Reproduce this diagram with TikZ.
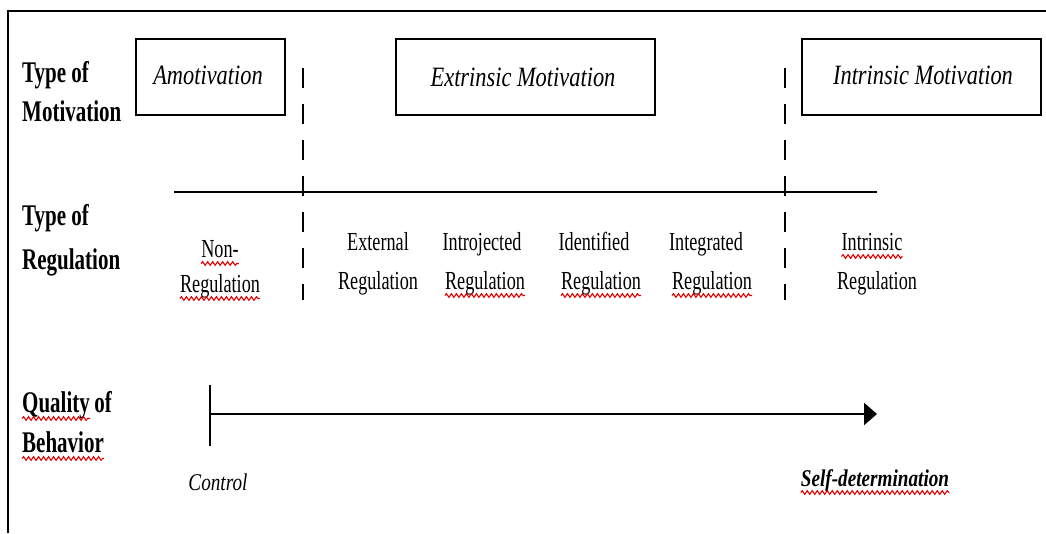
\documentclass[tikz,border=0pt]{standalone}
\usepackage{fontspec}
\setmainfont{Liberation Serif}
\newfontfamily\condfont[FakeStretch=0.70]{Liberation Serif}
\newfontfamily\slantfont[FakeStretch=0.80]{Liberation Serif}
\usetikzlibrary{arrows.meta,decorations.pathmorphing}
\newcommand{\squiggleunder}[1]{\draw[squig] ([yshift=-6.5pt]#1.base west) -- ([yshift=-6.5pt]#1.base east);}
\begin{document}
\begin{tikzpicture}[x=1pt,y=-1pt,
  head/.style={inner sep=0pt, anchor=base west, font=\condfont\bfseries\fontsize{30}{30}\selectfont},
  reg/.style={inner sep=0pt, anchor=base, font=\condfont\fontsize{26}{26}\selectfont},
  motbox/.style={draw, line width=2pt, minimum height=76pt, inner sep=0pt},
  mottext/.style={inner sep=0pt, anchor=base, font=\slantfont\itshape\fontsize{28}{28}\selectfont},
  endtext/.style={inner sep=0pt, anchor=base, font=\slantfont\itshape\fontsize{24}{24}\selectfont},
  squig/.style={draw=red!90!black, line width=1.1pt, decorate, decoration={snake, amplitude=1.8pt, segment length=5pt}},
  divider/.style={line width=2.8pt, dash pattern=on 20pt off 16pt},
  rulestyle/.style={line width=2pt},
]
\useasboundingbox (0,0) rectangle (1046,533);
% frame
\coordinate (fbl) at (8,533);
\coordinate (ftl) at (8,11);
\coordinate (ftr) at (1046,11);
\draw[line width=1.5pt] (fbl) -- (ftl) -- (ftr);

% row headings
\node[head] (tm1) at (22,82) {Type of};
\node[head] (tm2) at (22,121) {Motivation};
\node[head] (tr1) at (22,225) {Type of};
\node[head] (tr2) at (22,269) {Regulation};
\node[head] (qb1a) at (22,412) {Quality};
\node[head] (qb1b) at ([xshift=4pt]qb1a.base east) {of};
\node[head] (qb2) at (22,452) {Behavior};

% motivation boxes
\node[motbox, minimum width=149pt] (amobox) at (210.5,76.5) {};
\node[motbox, minimum width=259pt] (extbox) at (525.5,76.5) {};
\node[motbox, minimum width=239pt] (intbox) at (921.5,76.5) {};
\node[mottext] (amot) at (208,84) {Amotivation};
\node[mottext] (extt) at (523,86) {Extrinsic Motivation};
\node[mottext] (intt) at (923,84) {Intrinsic Motivation};

% dividers
\coordinate (d1t) at (303,68);
\coordinate (d1b) at (303,300);
\coordinate (d2t) at (785,68);
\coordinate (d2b) at (785,300);
\draw[divider] (d1t) -- (d1b);
\draw[divider] (d2t) -- (d2b);

% horizontal rule
\coordinate (rl) at (174,192);
\coordinate (rr) at (877,192);
\draw[rulestyle] (rl) -- (rr);

% regulation labels
\node[reg] (non1) at (220,257) {Non-};
\node[reg] (non2) at (220,292) {Regulation};
\node[reg] (ext1) at (378,250) {External};
\node[reg] (ext2) at (378,289) {Regulation};
\node[reg] (ijt1) at (482,250) {Introjected};
\node[reg] (ijt2) at (485,289) {Regulation};
\node[reg] (ide1) at (594,250) {Identified};
\node[reg] (ide2) at (601,289) {Regulation};
\node[reg] (itg1) at (706,250) {Integrated};
\node[reg] (itg2) at (712,289) {Regulation};
\node[reg] (irg1) at (872,250) {Intrinsic};
\node[reg] (irg2) at (877,289) {Regulation};

% quality arrow
\coordinate (tickt) at (210,385);
\coordinate (tickb) at (210,446);
\coordinate (arrs) at (210,414);
\coordinate (arre) at (877,414);
\draw[line width=1.6pt] (tickt) -- (tickb);
\draw[line width=2.6pt, -{Triangle[length=13pt,width=22pt]}] (arrs) -- (arre);

\node[endtext] (ctrl) at (218,490) {Control};
\node[endtext, font=\slantfont\bfseries\itshape\fontsize{24}{24}\selectfont] (selfd) at (875,486) {Self-determination};

% spell-check squiggles
\squiggleunder{non1}
\squiggleunder{non2}
\squiggleunder{ijt2}
\squiggleunder{ide2}
\squiggleunder{itg2}
\squiggleunder{irg1}
\squiggleunder{qb1a}
\squiggleunder{qb2}
\squiggleunder{selfd}
\end{tikzpicture}
\end{document}
